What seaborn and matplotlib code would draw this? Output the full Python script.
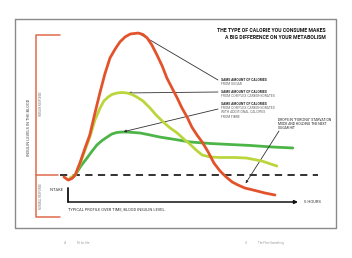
import matplotlib
matplotlib.use("Agg")
import matplotlib.pyplot as plt
import numpy as np
import seaborn as sns

# Time after intake (hours) and insulin level (arbitrary units, 0 = baseline)
sugar_t = [0.02, 0.11, 0.19, 0.26, 0.36, 0.47, 0.57, 0.68, 0.79, 0.89, 1.00, 1.11,
           1.21, 1.32, 1.43, 1.60, 1.70, 1.79, 1.89, 2.00, 2.11, 2.21, 2.32, 2.43,
           2.53, 2.64, 2.74, 2.85, 2.96, 3.09, 3.21, 3.34, 3.47, 3.60, 3.72, 3.87,
           4.09, 4.30, 4.51]
sugar_lvl = [-1.4, -3.6, -2.5, 0.0, 8.6, 19.3, 28.6, 44.3, 59.3, 72.1, 83.6, 90.0,
             95.0, 98.6, 100.7, 101.4, 100.4, 97.9, 92.9, 85.7, 77.9, 69.3, 62.1, 55.0,
             47.9, 41.4, 34.3, 28.6, 23.6, 16.4, 8.6, 2.9, -1.4, -5.0, -7.1, -9.3,
             -11.1, -12.9, -14.3]

complex_t = [0.15, 0.26, 0.36, 0.47, 0.57, 0.68, 0.79, 0.87, 0.96, 1.04, 1.15, 1.26,
             1.36, 1.47, 1.57, 1.70, 1.85, 1.98, 2.13, 2.28, 2.43, 2.57, 2.70, 2.83,
             2.96, 3.13, 3.34, 3.66, 3.91, 4.23, 4.55]
complex_lvl = [-2.1, 0.0, 7.9, 17.9, 27.1, 39.3, 47.9, 52.9, 55.7, 57.5, 58.6, 58.9,
               58.6, 57.5, 55.7, 52.9, 47.9, 42.9, 37.9, 33.6, 30.0, 25.7, 22.1, 17.9,
               14.3, 12.9, 12.5, 12.5, 12.1, 10.0, 6.4]

fibre_t = [0.19, 0.26, 0.38, 0.51, 0.62, 0.72, 0.83, 0.94, 1.04, 1.15, 1.26, 1.36,
           1.49, 1.64, 1.85, 2.06, 2.38, 2.70, 3.13, 3.55, 3.98, 4.45, 4.89]
fibre_lvl = [-2.1, 0.0, 6.4, 12.1, 17.1, 21.4, 24.6, 27.1, 29.3, 30.4, 30.7, 30.7,
             30.4, 30.0, 28.6, 27.1, 25.4, 23.6, 22.5, 21.8, 21.1, 20.0, 19.3]

baseline = 0.0
hours_total = 5

title_lines = ["THE TYPE OF CALORIE YOU CONSUME MAKES",
               "A BIG DIFFERENCE ON YOUR METABOLISM"]
label_sugar = ["SAME AMOUNT OF CALORIES", "FROM SUGAR"]
label_complex = ["SAME AMOUNT OF CALORIES", "FROM COMPLEX CARBOHYDRATES"]
label_fibre = ["SAME AMOUNT OF CALORIES", "FROM COMPLEX CARBOHYDRATES",
               "WITH ADDITIONAL CALORIES", "FROM FIBRE"]
label_drop = ["DROPS IN \u201cFORCING\u201d STARVATION", "MODE AND HOLDING THE NEXT",
              "SUGAR HIT"]

RED = "#E2532C"
LIME = "#BBD63C"
GREEN = "#4DB548"
BRACKET = "#E06B4C"

sns.set_theme(style="white")
plt.rcParams["font.family"] = ["Roboto", "DejaVu Sans"]

W, H = 352, 258
fig = plt.figure(figsize=(W / 100, H / 100), dpi=100)
ax = fig.add_axes([0, 0, 1, 1])
ax.set_facecolor("white")

# data axes: t=0 at x=63px, 47 px per hour; level 0 at y=175px, 1.4 px per unit
x0, sx = 63.0, 47.0
y0, sy = 175.0, 1.4
ax.set_xlim((0 - x0) / sx, (W - x0) / sx)
ax.set_ylim((y0 - H) / sy, (y0 - 0) / sy)
ax.set_axis_off()


def P(x, y):
    """pixel position -> axes fraction"""
    return (x / W, 1 - y / H)


T = ax.transAxes

# page frame
fr = [P(15, 19), P(336, 19), P(336, 228), P(15, 228), P(15, 19)]
ax.plot([p[0] for p in fr], [p[1] for p in fr], transform=T, color="#8a8a8a",
        lw=1.0, solid_joinstyle="miter")

# bracket on the left
bx = [P(60, 35), P(36, 35), P(36, 217), P(60, 217)]
ax.plot([p[0] for p in bx], [p[1] for p in bx], transform=T, color=BRACKET, lw=1.1)
ax.plot([P(36, 175)[0], P(58, 175)[0]], [P(36, 175)[1], P(58, 175)[1]],
        transform=T, color=BRACKET, lw=1.1)

ax.text(*P(29, 127), "INSULIN LEVELS IN THE BLOOD", transform=T, rotation=90,
        ha="center", va="center", fontsize=2.9, color="#444")
ax.text(*P(41, 104), "INSULIN RESPONSE", transform=T, rotation=90,
        ha="center", va="center", fontsize=2.0, color="#777")
ax.text(*P(41, 196), "NORMAL RESPONSE", transform=T, rotation=90,
        ha="center", va="center", fontsize=2.0, color="#777")

# baseline
ax.hlines(baseline, (60 - x0) / sx, (318 - x0) / sx, colors="#222", lw=1.3,
          linestyles=(0, (4, 3)), zorder=2)

# curves
sns.lineplot(x=fibre_t, y=fibre_lvl, sort=False, estimator=None, color=GREEN,
             lw=2.0, ax=ax, zorder=3)
sns.lineplot(x=complex_t, y=complex_lvl, sort=False, estimator=None, color=LIME,
             lw=2.0, ax=ax, zorder=4)
sns.lineplot(x=sugar_t, y=sugar_lvl, sort=False, estimator=None, color=RED,
             lw=2.0, ax=ax, zorder=5)
for ln in ax.lines:
    ln.set_solid_capstyle("round")
    ln.set_solid_joinstyle("round")

# time axis
t_tick = (68 - x0) / sx
lv_top, lv_axis = (y0 - 188) / sy, (y0 - 202) / sy
ax.plot([t_tick, t_tick], [lv_top, lv_axis], color="#111", lw=1.3, zorder=3)
ax.annotate("", xy=(hours_total, lv_axis), xytext=(t_tick, lv_axis),
            arrowprops=dict(arrowstyle="-|>", color="#111", lw=1.1,
                            mutation_scale=5, shrinkA=0, shrinkB=0))
ax.text(*P(304, 202), "5 HOURS", transform=T, ha="left", va="center",
        fontsize=3.0, color="#333")
ax.text(*P(64, 190), "INTAKE", transform=T, ha="right", va="center",
        fontsize=2.9, color="#333")
ax.text(*P(67, 190), "0", transform=T, ha="left", va="center",
        fontsize=2.9, color="#333")
ax.text(*P(68, 209), "TYPICAL PROFILE OVER TIME, BLOOD INSULIN LEVEL.",
        transform=T, ha="left", va="center", fontsize=2.9, color="#333")

# title
ax.text(*P(326, 30), title_lines[0], transform=T, ha="right", va="center",
        fontsize=3.7, fontweight="bold", color="#111")
ax.text(*P(326, 37.5), title_lines[1], transform=T, ha="right", va="center",
        fontsize=3.7, fontweight="bold", color="#111")

# callouts
arrow = dict(arrowstyle="-|>", color="#333", lw=0.6, mutation_scale=3.5,
             shrinkA=0, shrinkB=1)
i_s = int(np.argmax(sugar_lvl))
ax.annotate("", xy=(sugar_t[i_s], sugar_lvl[i_s]), xytext=P(218, 80),
            textcoords="axes fraction",
            arrowprops=dict(arrow, arrowstyle="-"))
i_c = int(np.argmax(complex_lvl))
ax.annotate("", xy=(complex_t[i_c + 1], complex_lvl[i_c + 1]), xytext=P(218, 92),
            textcoords="axes fraction", arrowprops=arrow)
i_f = int(np.argmax(fibre_lvl))
ax.annotate("", xy=(fibre_t[i_f], fibre_lvl[i_f]), xytext=P(218, 109),
            textcoords="axes fraction", arrowprops=arrow)
i_d = sugar_t.index(3.87)
ax.annotate("", xy=(sugar_t[i_d], sugar_lvl[i_d] + 2.5), xytext=P(279, 131),
            textcoords="axes fraction", arrowprops=arrow)


def block(lines, x, y, step=4.2):
    for k, s in enumerate(lines):
        ax.text(*P(x, y + k * step), s, transform=T, ha="left", va="center",
                fontsize=2.4, color="#222" if k == 0 else "#666",
                fontweight="bold" if k == 0 else "normal")


block(label_sugar, 221, 80)
block(label_complex, 221, 92)
block(label_fibre, 221, 104)
for k, s in enumerate(label_drop):
    ax.text(*P(278, 120 + 4 * k), s, transform=T, ha="left", va="center",
            fontsize=2.4, color="#222")

# page footers
ax.text(*P(64, 243), "40", transform=T, fontsize=2.0, color="#999", va="center")
ax.text(*P(77, 243), "Fit for Life", transform=T, fontsize=2.0, color="#999",
        va="center")
ax.text(*P(245, 243), "41", transform=T, fontsize=2.0, color="#999", va="center")
ax.text(*P(258, 243), "The Fibre Something", transform=T, fontsize=2.0,
        color="#999", va="center")

fig.savefig("out.png", dpi=100, facecolor="white")
